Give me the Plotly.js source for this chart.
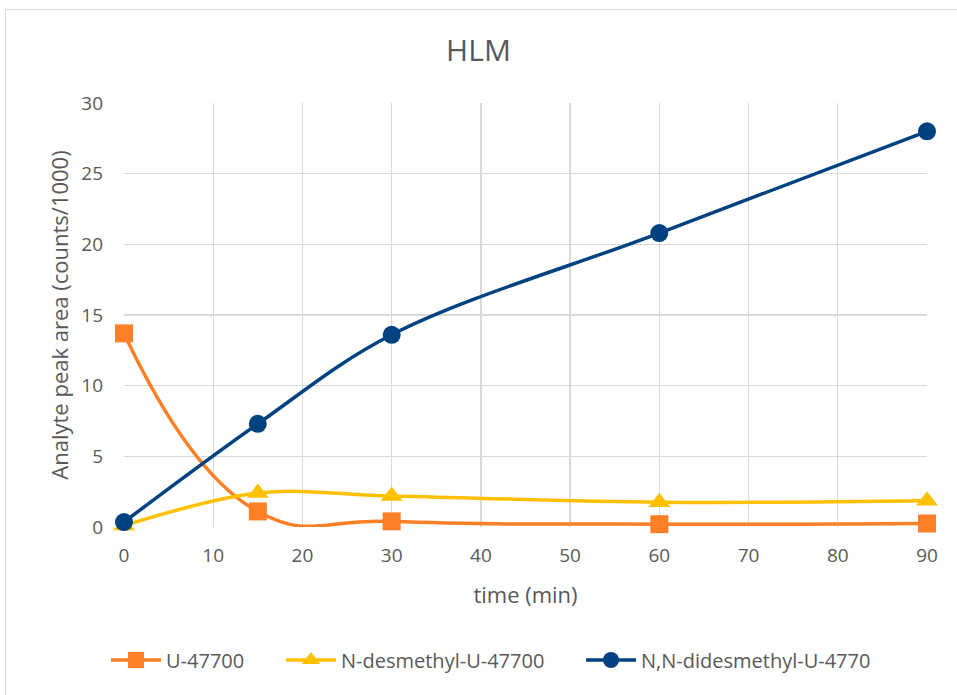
<!DOCTYPE html>
<html>
<head>
<meta charset="utf-8">
<script src="https://cdn.plot.ly/plotly-3.0.1.min.js"></script>
<style>
  html, body { margin: 0; padding: 0; overflow: hidden; background: #fff; }
  #chart { width: 957px; height: 695px; }
  #frame { position: absolute; left: 5px; top: 9px; width: 960px; height: 700px;
           border: 1px solid #d9d9d9; pointer-events: none; }
</style>
</head>
<body>
<div id="chart"></div>
<div id="frame"></div>
<script>
// Incubation time points (min)
const timeMin = [0, 15, 30, 60, 90];

// Analyte peak areas (counts/1000)
const u47700        = [13.7, 1.1, 0.4, 0.2, 0.25];
const nDesmethyl    = [0.1, 2.4, 2.2, 1.75, 1.85];
const nnDidesmethyl = [0.35, 7.3, 13.6, 20.8, 28.0];

const seriesNames = ['U-47700', 'N-desmethyl-U-47700', 'N,N-didesmethyl-U-4770'];

const W = 957, H = 695;
const plotLeft = 124, plotRight = 927, plotTop = 103, plotBottom = 527;
const plotW = plotRight - plotLeft, plotH = plotBottom - plotTop;

const txt = '#595959';
const font = 'Open Sans, Segoe UI, Calibri, sans-serif';

function series(y, name, color, symbol, size, legendId, smoothing) {
  return {
    x: timeMin, y: y, name: name, type: 'scatter', mode: 'lines+markers',
    legend: legendId,
    line: { color: color, width: 3.5, shape: 'spline', smoothing: smoothing },
    marker: { color: color, symbol: symbol, size: size, line: { width: 0 } },
    cliponaxis: false
  };
}

const data = [
  series(u47700, seriesNames[0], '#FF7F27', 'square', 18, 'legend', 1.3),
  series(nDesmethyl, seriesNames[1], '#FFC000', 'triangle-up', 19, 'legend2', 1),
  series(nnDidesmethyl, seriesNames[2], '#00427F', 'circle', 18, 'legend3', 1)
];

// One legend box per entry so each entry sits at its own spot along the bottom
function legendAt(px) {
  return {
    orientation: 'h', x: (px - plotLeft) / plotW, xanchor: 'left',
    y: (plotBottom - 660) / plotH, yanchor: 'middle',
    font: { family: font, size: 20, color: txt },
    itemwidth: 50, bgcolor: 'rgba(0,0,0,0)'
  };
}

const layout = {
  width: W, height: H,
  margin: { l: plotLeft, r: W - plotRight, t: plotTop, b: H - plotBottom, pad: 0 },
  paper_bgcolor: '#fff', plot_bgcolor: '#fff',
  font: { family: font, color: txt, size: 19 },
  title: { text: 'HLM', font: { family: font, size: 30, color: txt },
           x: 0.5, xanchor: 'center', y: 1 - 50 / H, yanchor: 'middle' },
  xaxis: {
    range: [0, 90], dtick: 10, tick0: 0,
    showgrid: true, gridcolor: '#d9d9d9', gridwidth: 1.3,
    zeroline: false, showline: false, ticks: '',
    tickfont: { family: font, size: 19, color: txt },
    ticklabelstandoff: 15,
    title: { text: 'time (min)', font: { family: font, size: 22, color: txt }, standoff: 20 }
  },
  yaxis: {
    range: [0, 30], dtick: 5, tick0: 0,
    showgrid: true, gridcolor: '#d9d9d9', gridwidth: 1.3,
    zeroline: false, showline: false, ticks: '',
    tickfont: { family: font, size: 19, color: txt },
    ticklabelstandoff: 20,
    title: { text: 'Analyte peak area (counts/1000)', font: { family: font, size: 22, color: txt }, standoff: 6 }
  },
  showlegend: true,
  legend: legendAt(106),
  legend2: legendAt(281),
  legend3: legendAt(581)
};

Plotly.newPlot('chart', data, layout, { displayModeBar: false, staticPlot: true });
</script>
</body>
</html>
